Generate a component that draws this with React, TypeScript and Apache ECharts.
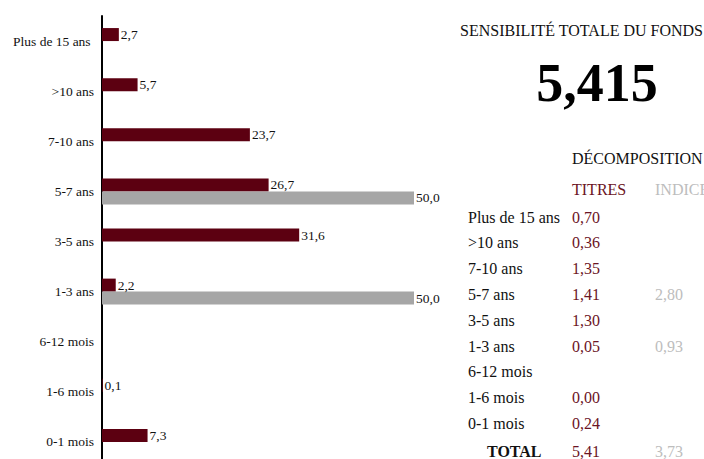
import React, { useEffect, useRef } from "react";
import * as echarts from "echarts";

const categories = ["Plus de 15 ans", ">10 ans", "7-10 ans", "5-7 ans", "3-5 ans", "1-3 ans", "6-12 mois", "1-6 mois", "0-1 mois"];
const titresBars: (number | null)[] = [2.7, 5.7, 23.7, 26.7, 31.6, 2.2, null, 0.1, 7.3];
const indiceBars: (number | null)[] = [null, null, null, 50.0, null, 50.0, null, null, null];
const titresSens: (string | null)[] = ["0,70", "0,36", "1,35", "1,41", "1,30", "0,05", null, "0,00", "0,24"];
const indiceSens: (string | null)[] = [null, null, null, "2,80", null, "0,93", null, null, null];
const totalTitres = "5,41";
const totalIndice = "3,73";
const fundSensitivity = "5,415";

const MAROON = "#5c0011";
const GRAY = "#a6a6a6";
const TXT_MAROON = "#6b1424";
const TXT_GRAY = "#bdbdbd";
const FONT = "Liberation Serif";

export default function App() {
  const ref = useRef<HTMLDivElement>(null);
  useEffect(() => {
    if (!ref.current) return;
    const chart = echarts.init(ref.current, undefined, { renderer: "svg" });
    const fmt = (p: any) => (p.value == null ? "" : Number(p.value).toFixed(1).replace(".", ","));
    const rowY0 = 217;
    const rowStep = 25.8;
    const txt = (x: number, y: number, text: string, fill: string, size = 16, weight = "normal", align = "left") => ({
      type: "text",
      x,
      y,
      style: { text, fill, fontFamily: FONT, fontSize: size, fontWeight: weight, textAlign: align, textVerticalAlign: "middle" },
    });
    const graphics: any[] = [
      txt(460, 30, "SENSIBILITÉ TOTALE DU FONDS", "#111"),
      txt(597, 83, fundSensitivity, "#000", 54, "bold", "center"),
      txt(572, 158, "DÉCOMPOSITION", "#111"),
      txt(572, 189, "TITRES", TXT_MAROON),
      txt(655, 189, "INDICE", TXT_GRAY),
    ];
    categories.forEach((c, i) => {
      const y = rowY0 + i * rowStep;
      graphics.push(txt(468, y, c, "#111"));
      if (titresSens[i] != null) graphics.push(txt(572, y, titresSens[i] as string, TXT_MAROON));
      if (indiceSens[i] != null) graphics.push(txt(655, y, indiceSens[i] as string, TXT_GRAY));
    });
    const yT = rowY0 + categories.length * rowStep + 2;
    graphics.push(txt(487, yT, "TOTAL", "#111", 16, "bold"));
    graphics.push(txt(572, yT, totalTitres, TXT_MAROON));
    graphics.push(txt(655, yT, totalIndice, TXT_GRAY));

    chart.setOption({
      animation: false,
      textStyle: { fontFamily: FONT },
      grid: { left: 102, top: 16, width: 374.4, height: 451, containLabel: false },
      xAxis: { type: "value", min: 0, max: 60, show: false },
      yAxis: {
        type: "category",
        inverse: true,
        data: categories,
        axisLine: { show: true, lineStyle: { color: "#000", width: 2 } },
        axisTick: { show: false },
        axisLabel: { color: "#111", fontSize: 13.5, fontFamily: FONT, margin: 8, formatter: (v: string) => (v === "Plus de 15 ans" ? v + "\u00a0" : v) },
      },
      series: [
        {
          type: "bar", data: titresBars, barWidth: 13, barGap: "0%", itemStyle: { color: MAROON },
          label: { show: true, position: "right", distance: 2, formatter: fmt, color: "#111", fontSize: 13.5, fontFamily: FONT },
        },
        {
          type: "bar", data: indiceBars, barWidth: 13, barGap: "0%", itemStyle: { color: GRAY },
          label: { show: true, position: "right", distance: 2, formatter: fmt, color: "#111", fontSize: 13.5, fontFamily: FONT },
        },
      ],
      graphic: graphics,
    });
    return () => chart.dispose();
  }, []);
  return (
    <div style={{ position: "fixed", left: 0, top: 0, width: 704, height: 459, overflow: "hidden", background: "#fff" }}>
      <div ref={ref} style={{ width: 704, height: 475 }} />
    </div>
  );
}
